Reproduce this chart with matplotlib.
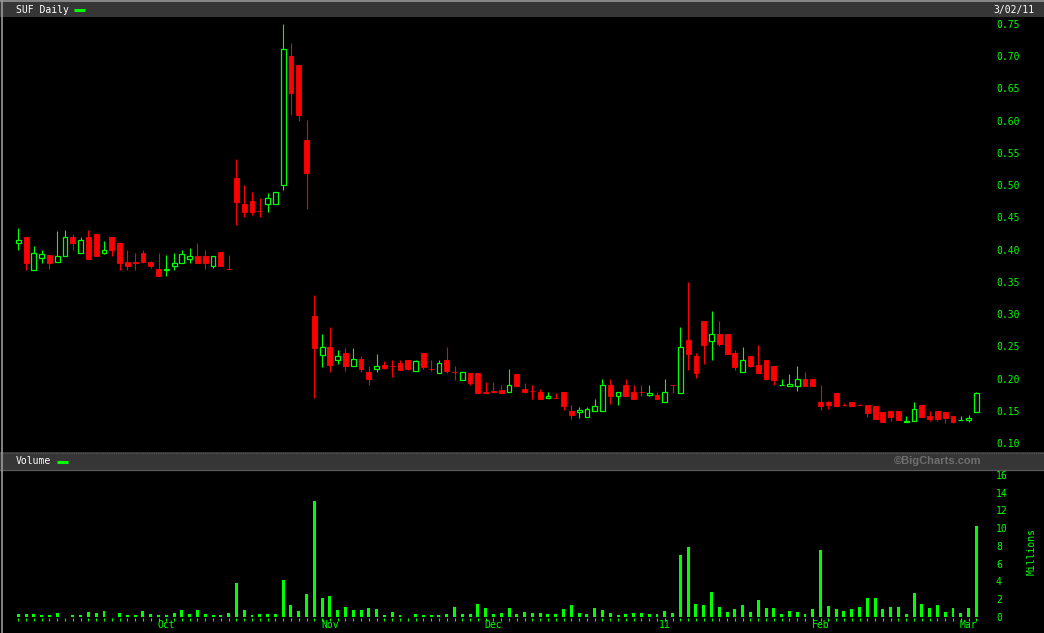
import matplotlib
matplotlib.use("Agg")
import matplotlib.pyplot as plt
from matplotlib.patches import Rectangle
from matplotlib.lines import Line2D
import numpy as np

W, H = 1044, 633
GREEN = '#00ff00'
RED = '#ff0000'
MONO = 'DejaVu Sans Mono'

# daily OHLC, Sep 3 2010 .. Mar 2 2011 (one entry per trading day)
opens = [0.410, 0.420, 0.369, 0.387, 0.391, 0.381, 0.390, 0.420, 0.395, 0.420,
         0.425, 0.395, 0.420, 0.410, 0.381, 0.3802, 0.395, 0.381, 0.370, 0.368,
         0.374, 0.379, 0.385, 0.390, 0.390, 0.374, 0.397, 0.3702, 0.511, 0.471,
         0.475, 0.4597, 0.470, 0.470, 0.500, 0.700, 0.686, 0.570, 0.297, 0.237,
         0.2485, 0.2283, 0.2397, 0.219, 0.2304, 0.2102, 0.2143, 0.2211, 0.2192, 0.2242,
         0.2288, 0.2123, 0.2397, 0.215, 0.2092, 0.2288, 0.2103, 0.1983, 0.2087, 0.2087,
         0.1784, 0.1802, 0.1823, 0.1797, 0.2071, 0.1838, 0.1808, 0.1792, 0.1694, 0.1696,
         0.1792, 0.1497, 0.1487, 0.1409, 0.1492, 0.1497, 0.190, 0.173, 0.190, 0.1792,
         0.1794, 0.175, 0.1745, 0.164, 0.1896, 0.1781, 0.2598, 0.235, 0.2893, 0.2588,
         0.2691, 0.2691, 0.2396, 0.2107, 0.235, 0.221, 0.2288, 0.2195, 0.1895, 0.189,
         0.189, 0.1993, 0.1993, 0.1636, 0.1636, 0.1776, 0.1592, 0.1636, 0.1592, 0.159,
         0.1574, 0.1481, 0.1497, 0.1497, 0.1321, 0.1347, 0.159, 0.1419, 0.1497, 0.1481,
         0.1419, 0.1352, 0.1357, 0.1487]
highs = [0.434, 0.420, 0.406, 0.400, 0.391, 0.429, 0.430, 0.425, 0.420, 0.431,
         0.425, 0.413, 0.420, 0.410, 0.400, 0.395, 0.400, 0.383, 0.395, 0.391,
         0.395, 0.400, 0.403, 0.410, 0.400, 0.390, 0.397, 0.392, 0.541, 0.500,
         0.489, 0.480, 0.488, 0.489, 0.750, 0.720, 0.686, 0.601, 0.330, 0.269,
         0.280, 0.2443, 0.2474, 0.2469, 0.235, 0.2195, 0.2381, 0.2273, 0.2288, 0.2288,
         0.2288, 0.2288, 0.2397, 0.2288, 0.2288, 0.249, 0.2195, 0.2102, 0.2087, 0.2087,
         0.1952, 0.1947, 0.190, 0.2149, 0.2071, 0.1931, 0.190, 0.1838, 0.1792, 0.1776,
         0.1792, 0.159, 0.1559, 0.1559, 0.1683, 0.1993, 0.1993, 0.1792, 0.1993, 0.190,
         0.190, 0.190, 0.1792, 0.1993, 0.1896, 0.280, 0.3498, 0.2396, 0.2893, 0.3048,
         0.2893, 0.2691, 0.2443, 0.249, 0.235, 0.252, 0.2288, 0.2195, 0.1993, 0.2071,
         0.2195, 0.2102, 0.1993, 0.190, 0.1652, 0.1776, 0.1621, 0.1636, 0.1606, 0.159,
         0.1574, 0.1481, 0.1497, 0.1497, 0.1419, 0.1636, 0.159, 0.1497, 0.1497, 0.1481,
         0.1419, 0.1419, 0.1435, 0.1792]
lows = [0.399, 0.369, 0.369, 0.380, 0.370, 0.381, 0.390, 0.400, 0.395, 0.385,
        0.390, 0.393, 0.390, 0.369, 0.369, 0.369, 0.379, 0.371, 0.359, 0.359,
        0.369, 0.379, 0.380, 0.379, 0.370, 0.371, 0.374, 0.370, 0.438, 0.450,
        0.454, 0.450, 0.459, 0.470, 0.4925, 0.609, 0.600, 0.463, 0.170, 0.2185,
        0.2107, 0.2221, 0.2118, 0.219, 0.2102, 0.190, 0.2107, 0.2149, 0.2025, 0.2133,
        0.2133, 0.2123, 0.2149, 0.2118, 0.2092, 0.2087, 0.1978, 0.1983, 0.190, 0.1776,
        0.1776, 0.1776, 0.1776, 0.1797, 0.1885, 0.1776, 0.1683, 0.1683, 0.1694, 0.1694,
        0.1513, 0.1373, 0.1389, 0.1409, 0.1492, 0.1497, 0.1606, 0.159, 0.173, 0.1683,
        0.173, 0.173, 0.1683, 0.164, 0.1776, 0.1781, 0.2138, 0.2009, 0.2226, 0.2288,
        0.2505, 0.2381, 0.2133, 0.2107, 0.218, 0.2086, 0.1993, 0.190, 0.1895, 0.189,
        0.1812, 0.189, 0.189, 0.1517, 0.1533, 0.158, 0.158, 0.158, 0.159, 0.1409,
        0.1373, 0.1331, 0.1347, 0.1362, 0.1321, 0.1347, 0.1409, 0.1347, 0.1347, 0.1316,
        0.1316, 0.1352, 0.1331, 0.1487]
closes = [0.415, 0.379, 0.395, 0.393, 0.379, 0.390, 0.420, 0.410, 0.415, 0.385,
          0.390, 0.399, 0.399, 0.379, 0.374, 0.3798, 0.381, 0.374, 0.359, 0.370,
          0.379, 0.393, 0.390, 0.379, 0.379, 0.390, 0.374, 0.370, 0.474, 0.459,
          0.459, 0.4592, 0.480, 0.489, 0.711, 0.643, 0.609, 0.519, 0.248, 0.2485,
          0.2216, 0.2345, 0.220, 0.2304, 0.2149, 0.1993, 0.219, 0.2164, 0.2188, 0.2133,
          0.2149, 0.2273, 0.218, 0.2147, 0.2242, 0.2118, 0.210, 0.2102, 0.1931, 0.1776,
          0.1782, 0.1798, 0.1776, 0.190, 0.1885, 0.1792, 0.1805, 0.1683, 0.173, 0.1694,
          0.1575, 0.1435, 0.1513, 0.1528, 0.1575, 0.190, 0.173, 0.1792, 0.173, 0.1683,
          0.179, 0.1776, 0.1683, 0.1786, 0.1894, 0.2484, 0.2386, 0.2086, 0.252, 0.2686,
          0.2536, 0.2381, 0.218, 0.2288, 0.2195, 0.2086, 0.1993, 0.1978, 0.190, 0.1916,
          0.1993, 0.189, 0.189, 0.158, 0.159, 0.158, 0.159, 0.158, 0.159, 0.1466,
          0.1373, 0.1331, 0.1404, 0.1362, 0.1342, 0.1523, 0.1409, 0.1378, 0.1373, 0.1388,
          0.1331, 0.1357, 0.1393, 0.1776]
# volume in millions
volumes = [0.34, 0.34, 0.34, 0.23, 0.23, 0.45, 0.02, 0.23, 0.23, 0.56,
           0.45, 0.68, 0.02, 0.45, 0.23, 0.23, 0.68, 0.34, 0.23, 0.23,
           0.45, 0.79, 0.34, 0.79, 0.34, 0.23, 0.23, 0.45, 3.83, 0.79,
           0.23, 0.34, 0.34, 0.34, 4.17, 1.35, 0.68, 2.59, 13.08, 2.14,
           2.37, 0.79, 1.13, 0.79, 0.79, 1.02, 0.90, 0.23, 0.56, 0.23,
           0.02, 0.34, 0.23, 0.23, 0.23, 0.34, 1.13, 0.34, 0.34, 1.47,
           1.02, 0.34, 0.45, 1.02, 0.34, 0.53, 0.41, 0.41, 0.30, 0.30,
           0.86, 1.32, 0.41, 0.30, 0.98, 0.75, 0.41, 0.19, 0.30, 0.41,
           0.41, 0.30, 0.30, 0.64, 0.41, 6.95, 7.86, 1.43, 1.32, 2.78,
           1.09, 0.53, 0.86, 1.32, 0.53, 1.88, 0.98, 0.98, 0.30, 0.64,
           0.53, 0.30, 0.86, 7.52, 1.20, 0.86, 0.64, 0.86, 1.09, 2.10,
           2.10, 0.86, 1.09, 1.09, 0.30, 2.67, 1.43, 0.98, 1.32, 0.53,
           0.98, 0.41, 0.98, 10.2]

month_pos = [19, 40, 61, 83, 103, 122]
month_labels = ['Oct', 'Nov', 'Dec', '11', 'Feb', 'Mar']
price_ticks = [0.10, 0.15, 0.20, 0.25, 0.30, 0.35, 0.40, 0.45, 0.50, 0.55, 0.60, 0.65, 0.70, 0.75]
vol_ticks = [0, 2, 4, 6, 8, 10, 12, 14, 16]


def fx(px):
    return px / W


def fy(py):
    return 1 - py / H


fig = plt.figure(figsize=(10.44, 6.33), dpi=100, facecolor='black')

ax = fig.add_axes([fx(5), fy(452), fx(985), (452 - 17) / H])
axv = fig.add_axes([fx(5), fy(633), fx(985), (633 - 470) / H])

x = np.arange(len(opens))
o = np.array(opens)
c = np.array(closes)
hi = np.array(highs)
lo = np.array(lows)
up = c >= o

# candles
ax.vlines(x, lo, hi, colors=[GREEN if u else RED for u in up], lw=0.8, zorder=2)
body_lo = np.minimum(o, c)
body_h = np.maximum(np.abs(c - o), 0.0005)
ax.bar(x[~up], body_h[~up], bottom=body_lo[~up], width=0.62,
       color=RED, edgecolor=RED, lw=0.6, zorder=3)
ax.bar(x[up], body_h[up], bottom=body_lo[up], width=0.62,
       facecolor='black', edgecolor=GREEN, lw=0.9, zorder=3)

ax.set_xlim(-1.71, 124.75)
ax.set_ylim(0.0860, 0.7609)
ax.set_yticks(price_ticks)
ax.set_yticklabels(['%.2f' % t for t in price_ticks])

# volume
axv.bar(x, volumes, width=0.38, color=GREEN, zorder=3)
axv.vlines(x, -0.5, -0.15, colors=GREEN, lw=0.8)
axv.set_xlim(-1.71, 124.75)
axv.set_ylim(-1.84, 16.56)
axv.set_yticks(vol_ticks)
axv.set_yticklabels([str(t) for t in vol_ticks])
for p, lab in zip(month_pos, month_labels):
    axv.text(p, -0.94, lab, color=GREEN, ha='center', va='center',
             fontsize=7, family=MONO, clip_on=False)
axv.text(1.042, 0.5, 'Millions', transform=axv.transAxes, rotation=90,
         color=GREEN, ha='center', va='center', fontsize=7, family=MONO)

for a in (ax, axv):
    a.set_facecolor('black')
    for s in a.spines.values():
        s.set_visible(False)
    a.set_xticks([])
    a.yaxis.tick_right()
    a.tick_params(axis='y', length=0, pad=4.3, labelcolor=GREEN, labelsize=7)
    for t in a.get_yticklabels():
        t.set_family(MONO)

# header strips
fig.add_artist(Rectangle((0, fy(17)), 1, 15 / H, transform=fig.transFigure,
                         facecolor='#363636', edgecolor='none'))
fig.add_artist(Rectangle((0, fy(470)), 1, 18 / H, transform=fig.transFigure,
                         facecolor='#363636', edgecolor='none'))
fig.add_artist(Line2D([0, 1], [fy(1), fy(1)], transform=fig.transFigure,
                      color='#a0a0a0', lw=1.2))
fig.add_artist(Line2D([0, 1], [fy(452.5), fy(452.5)], transform=fig.transFigure,
                      color='#5a5a5a', lw=0.8, ls=(0, (1, 1))))
fig.add_artist(Line2D([0, 1], [fy(469.5), fy(469.5)], transform=fig.transFigure,
                      color='#5a5a5a', lw=0.9))
fig.add_artist(Line2D([fx(1.5), fx(1.5)], [0, 1], transform=fig.transFigure,
                      color='#9a9a9a', lw=1.2))

fig.text(fx(16), fy(10), 'SUF Daily', color='white', fontsize=7, family=MONO,
         ha='left', va='center')
fig.add_artist(Line2D([fx(74), fx(85)], [fy(9.5), fy(9.5)], transform=fig.transFigure,
                      color=GREEN, lw=2.2, solid_capstyle='butt'))
fig.text(fx(1034), fy(9.5), '3/02/11', color='white', fontsize=7, family=MONO,
         ha='right', va='center')

fig.text(fx(16), fy(461.5), 'Volume', color='white', fontsize=7, family=MONO,
         ha='left', va='center')
fig.add_artist(Line2D([fx(57), fx(68)], [fy(461.5), fy(461.5)], transform=fig.transFigure,
                      color=GREEN, lw=2.2, solid_capstyle='butt'))
fig.text(fx(982), fy(461.5), '\u00a9BigCharts.com', color='#6e6e6e', fontsize=8,
         family='Liberation Sans', weight='bold', ha='right', va='center')

fig.savefig('out.png', dpi=100, facecolor='black')
